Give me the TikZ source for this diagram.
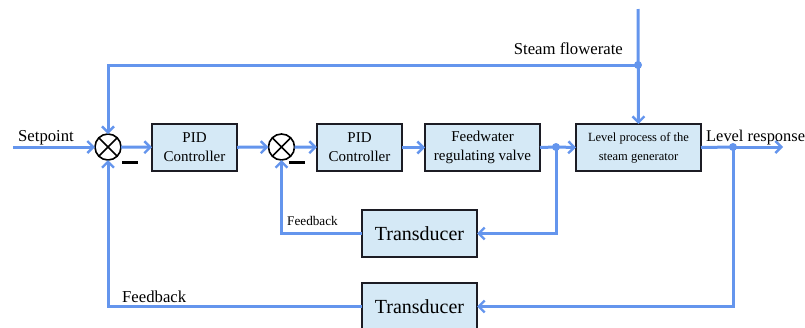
\documentclass[tikz,border=0pt]{standalone}
\usepackage{fontspec}
\setmainfont{Liberation Serif}
\usetikzlibrary{arrows.meta}
\definecolor{lineblue}{RGB}{100,149,237}
\definecolor{boxfill}{RGB}{213,233,246}
\definecolor{boxedge}{RGB}{28,28,36}
\tikzset{
  blk/.style={draw=boxedge, line width=2.4pt, fill=boxfill, inner sep=0pt, outer sep=0pt, align=center, minimum height=47pt},
  sumnode/.style={draw=black, line width=1.6pt, fill=white, circle, minimum size=26pt, inner sep=0pt, outer sep=0pt},
  conn/.style={draw=lineblue, line width=3pt},
  arr/.style={conn, -{Straight Barb[length=6pt,width=12pt,line width=2.4pt]}},
  dot/.style={fill=lineblue, circle, minimum size=8pt, inner sep=0pt},
  minussign/.style={draw=black, line width=3pt},
  lbl/.style={inner sep=0pt, text=black}
}
\newcommand{\fs}[2]{\fontsize{#1}{#2}\selectfont}
\begin{document}
\begin{tikzpicture}[x=1pt,y=-1pt]
\useasboundingbox (0,0) rectangle (805,327);
% blocks
\node[blk, minimum width=85pt, font=\fs{15}{19}] (pid1) at (194.5,147.5) {PID\\Controller};
\node[blk, minimum width=85pt, font=\fs{15}{19}] (pid2) at (359.5,147.5) {PID\\Controller};
\node[blk, minimum width=115pt, font=\fs{15}{19}] (valve) at (482.5,147.5) {Feedwater\\regulating valve};
\node[blk, minimum width=125pt, font=\fs{12.5}{19}] (level) at (638.5,147.5) {Level process of the\\steam generator};
\node[blk, minimum width=115pt, font=\fs{20}{22}] (t1) at (419.5,233.5) {Transducer};
\node[blk, minimum width=115pt, font=\fs{20}{22}] (t2) at (419.5,306.5) {Transducer};
% summing junctions
\node[sumnode] (s1) at (108,147) {};
\node[sumnode] (s2) at (281.5,147) {};
\foreach \s in {s1,s2}{
  \draw[black, line width=1.6pt] (\s.north east) -- (\s.south west) (\s.north west) -- (\s.south east);
}
\draw[minussign] (122,162) -- (138,162);
\draw[minussign] (289,162) -- (305,162);
% coordinates
\coordinate (sp) at (13,147);
\coordinate (out) at (783,147);
\coordinate (st) at (638,9);
\node[dot] (j1) at (556,147) {};
\node[dot] (j2) at (733,147) {};
\node[dot] (j3) at (638,65) {};
% connectors
\draw[arr] (sp) -- (s1);
\draw[arr] (s1) -- (pid1);
\draw[arr] (pid1) -- (s2);
\draw[arr] (s2) -- (pid2);
\draw[arr] (pid2) -- (valve);
\draw[conn] (valve.east) -- (j1.center);
\draw[arr] (j1.center) -- (level.west);
\draw[conn] (level.east) -- (j2.center);
\draw[arr] (j2.center) -- (out);
\draw[arr] (st) -- (level.north);
\draw[arr] (j3.center) -| (s1.north);
\draw[arr] (j1.center) |- (t1.east);
\draw[arr] (t1.west) -| (s2.south);
\draw[arr] (j2.center) |- (t2.east);
\draw[arr] (t2.west) -| (s1.south);
% labels
\node[lbl, anchor=base west, font=\fs{16.7}{19}] at (18,141) {Setpoint};
\node[lbl, anchor=base east, font=\fs{16.7}{19}] at (623,54) {Steam flowerate};
\node[lbl, anchor=base west, font=\fs{16.4}{19}] at (706,141) {Level response};
\node[lbl, anchor=base west, font=\fs{13.2}{15}] at (287,225) {Feedback};
\node[lbl, anchor=base west, font=\fs{16.7}{19}] at (122,302) {Feedback};
\end{tikzpicture}
\end{document}
